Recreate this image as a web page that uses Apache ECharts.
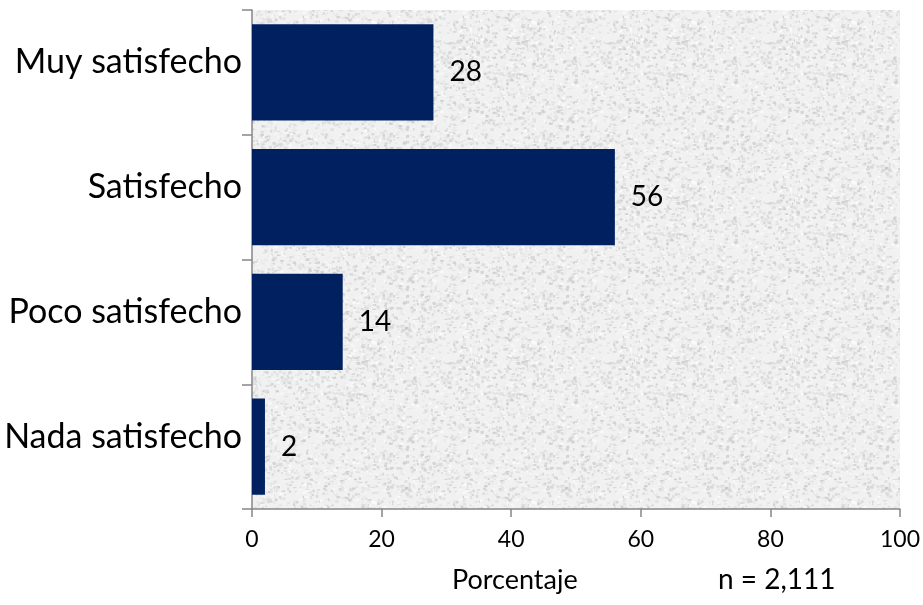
<!DOCTYPE html>
<html><head><meta charset="utf-8">
<script src="https://cdn.jsdelivr.net/npm/echarts@6/dist/echarts.min.js"></script>
<style>html,body{margin:0;padding:0;background:#fff}#c{width:923px;height:605px}</style>
</head><body><div id="c"></div>
<script>
var categories = ['Muy satisfecho', 'Satisfecho', 'Poco satisfecho', 'Nada satisfecho'];
var values = [28, 56, 14, 2];
var xTicks = [0, 20, 40, 60, 80, 100];
var xTitle = 'Porcentaje';
var note = 'n = 2,111';

// decorative granite-like texture (seeded, style only)
function makeTexture() {
  var c = document.createElement('canvas');
  c.width = 160; c.height = 160;
  var ctx = c.getContext('2d');
  ctx.fillStyle = '#f1f1f1';
  ctx.fillRect(0, 0, 160, 160);
  var s = 12345;
  function rnd() { s = (s * 16807) % 2147483647; return s / 2147483647; }
  for (var i = 0; i < 2600; i++) {
    var x = rnd() * 160, y = rnd() * 160;
    var g = Math.floor(200 + rnd() * 55);
    ctx.fillStyle = 'rgba(' + g + ',' + g + ',' + g + ',0.8)';
    ctx.fillRect(x, y, 1 + rnd() * 3, 1 + rnd() * 2);
  }
  return c;
}

var FONT = 'Lato, "Open Sans", sans-serif';
var chart = echarts.init(document.getElementById('c'));
chart.setOption({
  animation: false,
  grid: { left: 252, right: 23, top: 10, bottom: 96, show: true, borderWidth: 0,
          backgroundColor: { image: makeTexture(), repeat: 'repeat' } },
  xAxis: {
    type: 'value', min: 0, max: 100, interval: 20,
    axisLine: { show: true, lineStyle: { color: '#868686', width: 1.5 } },
    axisTick: { show: true, length: 8, lineStyle: { color: '#868686', width: 1.5 } },
    splitLine: { show: false },
    axisLabel: { color: '#000', fontSize: 23, fontFamily: FONT, margin: 19,
      formatter: function (v) { return xTicks.indexOf(v) >= 0 ? String(v) : ''; } }
  },
  yAxis: {
    type: 'category', data: categories, inverse: true,
    axisLine: { show: true, lineStyle: { color: '#868686', width: 1.5 } },
    axisTick: { show: true, length: 10, lineStyle: { color: '#868686', width: 1.5 } },
    axisLabel: { margin: 10,
      formatter: function (v) { return '{a|' + v + '}'; },
      rich: { a: { color: '#000', fontSize: 34, fontFamily: FONT, padding: [0, 0, 20, 0] } } }
  },
  series: [{
    type: 'bar', data: values, barCategoryGap: '23%',
    itemStyle: { color: '#002060' },
    label: { show: true, position: 'right', distance: 16, color: '#000', fontSize: 28, fontFamily: FONT }
  }],
  graphic: [
    { type: 'text', left: 452, top: 567, style: { text: xTitle, fill: '#000', font: '27px ' + FONT } },
    { type: 'text', left: 718, top: 566, style: { text: note, fill: '#000', font: '28px ' + FONT } }
  ]
});
</script></body></html>
